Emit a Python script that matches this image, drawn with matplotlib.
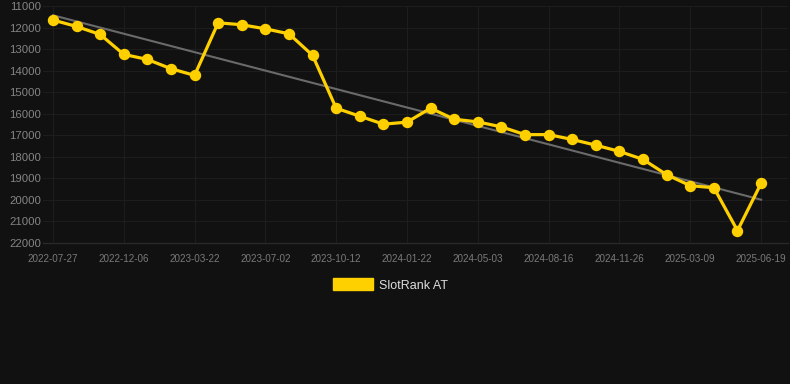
import numpy as np
import matplotlib
matplotlib.use("Agg")
import matplotlib.pyplot as plt
from matplotlib.patches import Patch

plt.rcParams["font.family"] = ["Liberation Sans", "DejaVu Sans"]

# rank values, one per period (lower rank number = better)
ranks = [11650, 11950, 12320, 13245, 13480, 13910, 14220, 11780, 11870, 12060,
         12290, 13290, 15745, 16115, 16485, 16390, 15745, 16255, 16380, 16610,
         16970, 16970, 17195, 17460, 17750, 18120, 18830, 19340, 19435, 21425,
         19230]
# trend line end values as drawn in the chart
trend_ends = [11430, 19990]
tick_labels = ["2022-07-27", "2022-12-06", "2023-03-22", "2023-07-02", "2023-10-12",
               "2024-01-22", "2024-05-03", "2024-08-16", "2024-11-26", "2025-03-09",
               "2025-06-19"]
y_ticks = list(range(11000, 22001, 1000))
series_name = "SlotRank AT"

BG = "#111111"
YELLOW = "#FFD000"

x = np.arange(len(ranks))

fig = plt.figure(figsize=(7.9, 3.84), dpi=100, facecolor=BG)
ax = fig.add_axes([43 / 790, 1 - 243 / 384, 745 / 790, 237 / 384])
ax.set_facecolor(BG)

ax.plot([x[0], x[-1]], trend_ends, color="#6a6a6a", lw=1.5, zorder=2)
ax.plot(x, ranks, color=YELLOW, lw=2.3, marker="o", ms=7.2, zorder=3)

ax.set_xlim(-0.42, 31.14)
ax.set_ylim(22000, 11000)
ax.set_yticks(y_ticks)
ax.set_xticks(x[::3])
ax.set_xticklabels(tick_labels)
ax.tick_params(axis="y", length=0, pad=1.5, labelsize=8.2, labelcolor="#858585")
ax.tick_params(axis="x", length=0, pad=8, labelsize=7.1, labelcolor="#7a7a7a")
ax.grid(True, color="#1d1d1d", lw=0.8)
ax.set_axisbelow(True)
for s in ax.spines.values():
    s.set_visible(False)
ax.spines["bottom"].set_visible(True)
ax.spines["bottom"].set_color("#2a2a2a")
ax.spines["bottom"].set_linewidth(0.9)

fig.legend(handles=[Patch(facecolor=YELLOW, edgecolor=YELLOW, label=series_name)],
           loc="center", bbox_to_anchor=(0.494, 1 - 285 / 384), frameon=False,
           fontsize=9, labelcolor="#dddddd", handlelength=3.2, handleheight=1.1,
           handletextpad=0.5)

fig.savefig("out.png", dpi=100, facecolor=BG)
